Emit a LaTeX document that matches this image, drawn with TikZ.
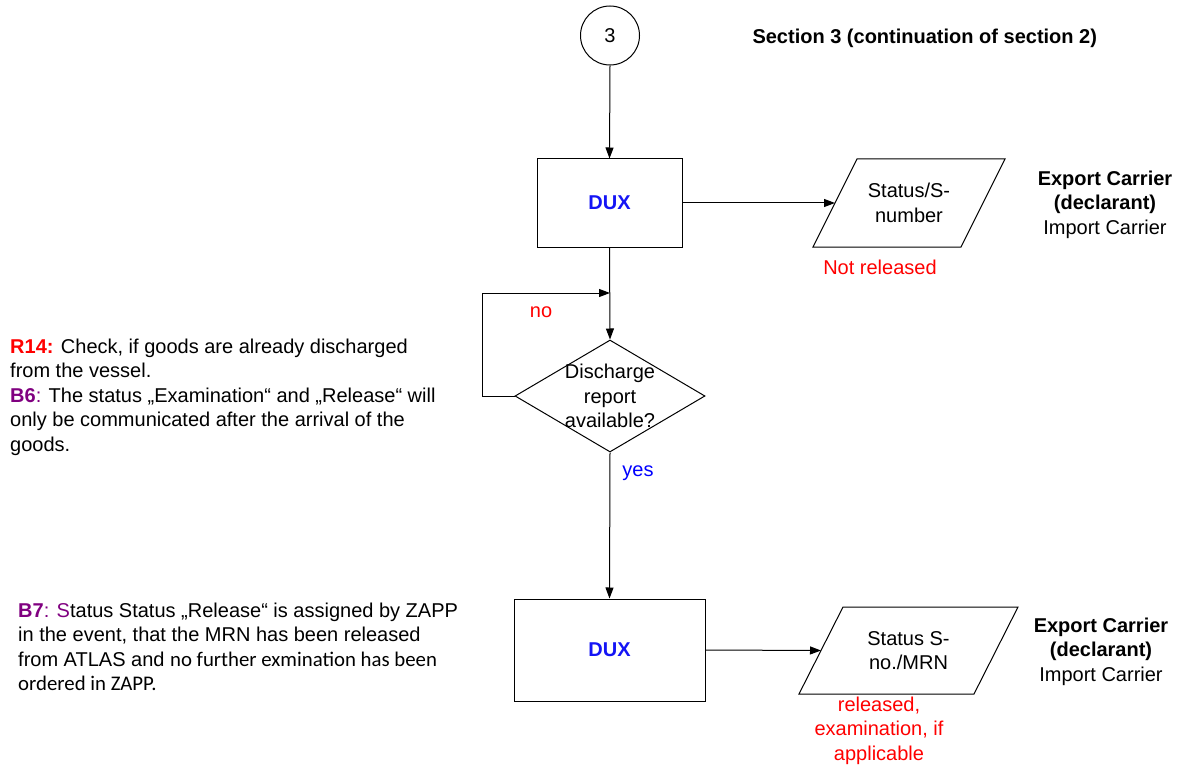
\documentclass[tikz,border=0pt]{standalone}
\usepackage{fontspec}
\setmainfont{Liberation Sans}
\newfontfamily\calfont{Carlito}
\usepackage{xcolor}
\usetikzlibrary{calc,shapes.geometric,arrows.meta}
\definecolor{duxblue}{RGB}{20,20,245}
\definecolor{notered}{RGB}{255,0,0}
\definecolor{noteblue}{RGB}{0,0,255}
\definecolor{notepurple}{RGB}{128,0,128}
\newcommand{\txtsize}{\fontsize{20}{24.5}\selectfont}
\newcommand{\calsize}{\calfont\fontsize{20.8}{24.5}\selectfont}
\newcommand{\prpara}[4]{\draw[boxline] ($(#1.center)+(-#2/2+#4/2,-#3/2)$) -- ($(#1.center)+(#2/2+#4/2,-#3/2)$) -- ($(#1.center)+(#2/2-#4/2,#3/2)$) -- ($(#1.center)+(-#2/2-#4/2,#3/2)$) -- cycle;}
\tikzset{
  boxline/.style={line width=1pt,black},
  flow/.style={line width=1pt,-{Triangle[length=11pt,width=8pt]}},
  procbox/.style={draw,line width=1pt,font=\txtsize\bfseries,text=duxblue},
}

\begin{document}
\begin{tikzpicture}[x=1pt,y=-1pt,font=\txtsize]
		\useasboundingbox (0,0) rectangle (1179,765);
		
		\node[circle,draw,line width=1pt,minimum size=59pt,inner sep=0] (start) at (610,35.5) {3};
		\node[anchor=base west,font=\txtsize\bfseries] (title) at (749,44) {Section 3 (continuation of section 2)};
		
		\node[procbox,minimum width=145pt,minimum height=88pt] (dux1) at (609.5,203) {DUX};
		\node[align=center,minimum width=148pt,minimum height=88pt] (para1) at (909,203) {Status/S-\\number};
		\prpara{para1}{148}{88}{44}
		\coordinate (para1in) at ($(para1.center)+(-74,0)$);
		\node[anchor=base,text=notered] (notrel) at (880,274) {Not released};
		\node[anchor=north,align=center,inner sep=0] (carrier1) at (1105,170.5) {\textbf{Export Carrier}\\\textbf{(declarant)}\\Import Carrier};
		
		\node[diamond,draw,line width=1pt,minimum width=190pt,minimum height=112pt,inner sep=0] (chk) at (610,396) {};
		\node[align=center,inner sep=0] (chktxt) at (chk.center) {Discharge\\report\\available?};
		\coordinate (loopin) at (610,293);
		\node[text=notered] (no) at (541,312) {no};
		\node[anchor=base,text=noteblue] (yes) at (638,476) {yes};
		
		\node[procbox,minimum width=191pt,minimum height=102pt] (dux2) at (609.5,650) {DUX};
		\node[align=center,minimum width=175pt,minimum height=87pt] (para2) at (908.5,650.5) {Status S-\\no./MRN};
		\prpara{para2}{175}{87}{44}
		\coordinate (para2in) at ($(para2.center)+(-87.5,0)$);
		\node[anchor=north,align=center,inner sep=0,text=notered] (rel) at (879,696.5) {released,\\examination, if\\applicable};
		\node[anchor=north,align=center,inner sep=0] (carrier2) at (1101,617.5) {\textbf{Export Carrier}\\\textbf{(declarant)}\\Import Carrier};
		
		\draw[flow] (start.south) -- (dux1.north);
		\draw[flow] (dux1.east) -- (para1in);
		\draw[flow] (dux1.south) -- (chk.north);
		\draw[flow] (chk.west) -- ++(-32,0) |- (loopin);
		\draw[flow] (chk.south) -- (dux2.north);
		\draw[flow] (dux2.east) -- (para2in);
		
		\node[anchor=north west,align=left,inner sep=0] (r14note) at (10,338.5) {\textcolor{notered}{\textbf{R14:}} Check, if goods are already discharged\\from the vessel.\\\textcolor{notepurple}{\textbf{B6}:} The status „Examination“ and „Release“ will\\only be communicated after the arrival of the\\goods.};
		\node[anchor=north west,align=left,inner sep=0] (b7note) at (18,602.5) {\textcolor{notepurple}{\textbf{B7}: S}tatus Status „Release“ is assigned by ZAPP\\in the event, that the MRN has been released\\from ATLAS and {\calsize no further exmination has been}\\{\calsize ordered in ZAPP.}};
		
	\end{tikzpicture}
\end{document}
